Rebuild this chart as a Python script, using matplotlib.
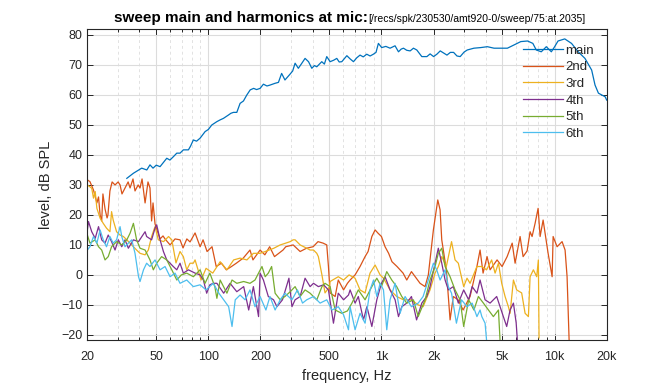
import matplotlib
matplotlib.use("Agg")
import matplotlib.pyplot as plt
from matplotlib.ticker import FixedLocator, NullFormatter

plt.rcParams['font.family'] = ['Liberation Sans', 'DejaVu Sans']

# fundamental
main_f = [33.8, 36.9, 41.2, 44.1, 46.0, 47.9, 50.0, 52.6, 55.0, 57.5, 60.0, 63.0, 65.7, 68.6, 71.7, 76.7,
          79.0, 81.9, 85.5, 89.6, 95.8, 100, 104.7, 111.9, 117, 122.2, 130.5, 135, 139.6, 146, 152.5, 159.5,
          166.8, 174.5, 182.6, 190, 199, 208, 218, 227, 243, 254, 265, 277, 296, 307, 317, 331, 345, 362,
          379, 396, 410, 423, 452, 468, 483, 505, 530, 552, 570, 590, 631, 660, 689, 720, 752, 785, 822,
          860, 898, 930, 960, 1003, 1060, 1121, 1198, 1254, 1300, 1340, 1400, 1465, 1530, 1600, 1710,
          1830, 1910, 2000, 2090, 2185, 2390, 2500, 2610, 2730, 2850, 3000, 3130, 3420, 3740, 4090,
          4470, 4890, 5340, 5840, 6380, 6980, 7490, 7840, 8380, 8960, 9580, 10010, 10470, 11450,
          12530, 13700, 14980, 16380, 17130, 17920, 19600, 20000]
main_db = [32.2, 33.9, 35.6, 35.0, 36.7, 35.6, 36.6, 36.1, 37.5, 38.9, 38.3, 39.5, 40.6, 40.6, 41.7, 41.7,
           43.0, 45.0, 44.6, 45.6, 47.8, 48.5, 50.0, 51.1, 51.7, 52.2, 53.3, 53.9, 54.2, 54.2, 57.2, 58.0,
           60.0, 61.7, 62.2, 61.8, 62.2, 63.6, 63.0, 63.3, 63.9, 64.2, 67.2, 65.0, 66.9, 68.0, 70.6, 68.9, 70.4, 72.2,
           71.1, 68.9, 69.8, 69.4, 71.1, 70.3, 72.8, 71.1, 71.6, 72.2, 71.0, 71.1, 73.1, 72.0, 71.1, 72.4, 73.3, 72.7, 73.6,
           73.0, 73.6, 74.2, 77.2, 75.8, 76.2, 75.6, 76.4, 74.4, 75.3, 75.6, 74.9, 74.7, 75.6, 75.0, 72.8,
           72.8, 73.7, 72.8, 73.6, 74.7, 73.3, 74.2, 74.2, 73.0, 72.8, 74.3, 75.0, 75.6, 75.8, 76.1,
           75.6, 75.6, 75.6, 76.7, 77.8, 78.0, 77.2, 75.0, 74.4, 76.1, 74.4, 76.1, 78.0, 78.7,
           77.2, 74.4, 72.2, 68.3, 63.3, 60.6, 59.4, 58.3]

# 2nd harmonic
h2_f = [20, 20.7, 21.7, 22.7, 23.2, 23.7, 24.2, 24.6, 25.3, 26.0, 26.3, 27.0, 27.8, 28.9, 30.1, 30.9,
        31.7, 33.0, 34.4, 35.3, 36.7, 37.7, 39.3, 40.3, 41.4, 43.1, 44.8, 46.0, 47.0, 47.9, 49.2, 50.5,
        52.6, 54.7, 56.2, 60.1, 64.2, 68.6, 71.4, 75.1, 78.4, 83.8, 89.6, 93.2, 98.3, 105, 111, 119,
        127, 136, 145, 159, 174, 181, 199, 212, 226, 241, 270, 280, 309, 339, 369, 403, 430, 460,
        483, 494, 505, 540, 563, 604, 636, 659, 704, 752, 804, 837, 880, 919, 956, 1000, 1049, 1100,
        1150, 1230, 1333, 1400, 1490, 1671, 1786, 1865, 1995, 2115, 2181, 2230, 2370, 2491, 2600,
        2771, 2962, 3250, 3560, 3712, 3864, 4075, 4241, 4655, 4975, 5320, 5690, 5915, 6321, 6579,
        6940, 7221, 7415, 7718, 8033, 8250, 8586, 9177, 9680, 9809, 10340, 11050, 11500, 11810, 12130]
h2_db = [31.7, 31.1, 28.3, 24, 26, 20, 18, 27, 22, 19, 20, 28, 31, 30, 31, 30,
         27, 29, 31, 29, 32, 28, 30, 29, 32, 24, 31, 29, 18, 24, 17, 15,
         12, 13, 12, 10, 12, 11.7, 9, 12, 11, 14, 9.4, 11.7, 7.8, 9.4, 2.8, 3.9,
         1.7, 2.8, 3.9, 5.6, 8.3, 5, 8.3, 6.7, 9.4, 6.1, 8.3, 9.4, 10, 7.8, 8.9, 9.4, 11.1, 10.6,
         10, 2.8, -6, -7.2, -1.7, -5, -2.8, -1.7, 0, 2.8, 6.1, 7.8, 12.8, 15, 13.9, 12.8, 9.4, 7.2,
         4.4, 2.8, 0.6, -1.7, 1.1, -2.8, -3.9, 0, 15, 25, 21.7, 11.7, 1.7, -15, -7.2,
         -8.3, -11.7, -7.2, 2.8, 8.3, 0.6, 6.1, 1.7, 5, 2.8, 6.1, 10.6, 3.9, 12.8, 6.1,
         8, 14.4, 12.8, 17.2, 22.2, 12.8, 18.3, 7.2, -0.6, 12.8, 9.4, 11.1, 8.3, -0.6, -21.5]

# 3rd harmonic
h3_f = [20, 21.2, 21.7, 22.2, 22.7, 23.7, 24.7, 25.8, 27.0, 27.6, 28.2, 29.5, 30.9, 32.3, 33.8, 36.9,
        38.5, 40.3, 43.1, 45.0, 47.0, 49.2, 51.4, 55.1, 58.9, 61.5, 65, 68.6, 71.7, 75.0, 78.4, 81.9,
        83.8, 90.8, 97.0, 106, 117, 128, 140, 152.5, 167, 182, 199, 213, 239, 260, 280, 297, 309,
        317, 339, 370, 387, 405, 423, 432, 453, 472, 500, 505, 563, 604, 650, 704, 752, 804, 859,
        919, 982, 1027, 1121, 1225, 1338, 1490, 1630, 1740, 1908, 2040, 2130, 2230, 2370, 2540,
        2662, 2780, 2985, 3120, 3250, 3560, 3800, 4050, 4330, 4533, 4740, 4950, 5177, 5410, 5534,
        5785, 6040, 6455, 6756, 7060, 7221, 7545, 7885, 8060, 8135]
h3_db = [30, 28.9, 25.6, 27.8, 22.2, 18.9, 17.2, 15.6, 14.4, 21.1, 18.3, 14.4, 13.3, 12.8, 11.7, 9.4,
         8.3, 7.2, 6.7, 8.3, 12.8, 16.1, 11.7, 11.1, 12.8, 11.7, 4, 7.8, 6.1, 1.7, 3.9, 3.9,
         5, -1.7, 2.2, 0.6, 4.4, 1.7, 5, 5.6, 5, 7.2, 7.2, 7.8, 8.9, 10, 10.6, 11.1, 11.7,
         11.7, 10, 8.9, 8.3, 8.3, 7.2, 6.1, 0, -6, -4, -2.2, -0.6, -1.7, 0, -1.1, -5, -6, 0.6,
         3.3, 0, -1.1, -5, -7.2, -8.3, -8.3, -10, -10.6, -5, 0.6, 2.8, 6.1, 2.8, 11.1,
         5, 3.9, -3.9, -1.1, -2.8, 2.8, 2.8, 1.7, 5, 0.6, 3.9, -2.8, -7.2, -10.6, -12.8,
         -1.7, -5, -6, -12.8, -13.9, -0.6, 1.7, -0.6, 5, -21]

# 4th harmonic
h4_f = [20, 20.3, 21.2, 22.2, 23.2, 24.2, 25.3, 26.4, 27.6, 28.9, 30.2, 31.6, 33.0, 34.5, 36.9, 39.5,
        41.3, 43.1, 44.0, 47.0, 49.2, 50.3, 52.6, 55.0, 57.5, 60.1, 62.7, 65.7, 68.6, 71.7, 76.7, 83.8,
        89.6, 93.6, 97.8, 102, 106.7, 112, 122.6, 133.5, 146, 160, 171, 182, 195, 199, 208, 222,
        238, 249, 268, 292, 304, 317, 339, 362, 387, 405, 432, 463, 494, 528, 563, 604, 645, 659,
        704, 735, 787, 824, 880, 940, 1000, 1049, 1121, 1199, 1254, 1310, 1400, 1490, 1595, 1710,
        1826, 1908, 2040, 2130, 2230, 2331, 2435, 2600, 2780, 2985, 3190, 3340, 3560, 3712, 3968,
        4241, 4630, 4844, 5060, 5290, 5534, 5785, 6000, 6100]
h4_db = [15, 17.8, 14.4, 12.2, 16.1, 11.7, 10.6, 13.3, 11.1, 8.3, 11.7, 9.4, 11.7, 8.9, 11.7, 11.1,
         12.8, 14.4, 12.8, 11.7, 15.6, 16.7, 11.7, 7.8, 5, 3.9, 2.8, 1.7, 3.9, 0.6, 1.7, 0.6,
         0, -1.7, -6.1, -3.3, -2.8, -2.8, -6.1, -2.8, -5.6, -3.9, -11.7, -3.9, -13.9, 0.6, -1.7, -7.2,
         -8.3, -10.6, -8.3, -1.1, -10.6, -8.3, -7.2, -1.1, -3.9, -2.8, -3.9, -3.3, -5, -16.1, -6.1, -8.3, -6.7, -5,
         -9.4, -7.2, -15, -10.6, -17.2, -8.3, -2.8, -0.6, -5, -8.3, -13.9, -10.6, -9.4, -7.2, -15, -9.4,
         -7.2, -3.9, 3.9, 8.9, 3.9, -1.7, -5, -3.9, -9.4, -5, -8.3, -3.9, -6.1, -1.7, -8.3,
         -9.4, -7.2, -10.6, -13.9, -17.2, -11.7, -9.4, -16, -22]

# 5th harmonic
h5_f = [20, 20.7, 22.2, 23.2, 24.2, 25.3, 26.4, 27.6, 29.5, 31.6, 33.8, 35.3, 36.9, 38.5, 40.3, 43.1,
        46.0, 48.1, 50.3, 53.7, 57.5, 61.5, 65.7, 69.8, 75.0, 81.9, 89.6, 95.7, 102, 109, 112, 117,
        128, 137, 146, 160, 174, 186, 204, 213, 222, 232, 243, 260, 277, 297, 317, 339, 362, 387,
        423, 453, 472, 505, 540, 590, 636, 675, 735, 804, 880, 940, 1000, 1073, 1147, 1225, 1310,
        1400, 1530, 1630, 1786, 1908, 2040, 2130, 2230, 2331, 2491, 2662, 2846, 2985, 3190, 3420,
        3630, 3880, 4150, 4430, 4740, 4844]
h5_db = [13.3, 10.6, 11.7, 9.4, 8.3, 5, 6.1, 9.4, 11.1, 10, 11.7, 13.9, 17.2, 11.7, 8.9, 8.3,
         5, 1.7, 3.9, 6.1, 5, 1.7, -1.7, 0, 0.6, -0.6, 1.7, -2.8, 0.6, -3.9, -7.8, -1.7,
         -6.1, -1.7, -2.8, -2.2, -2.8, -1.7, 2.8, -0.6, 0.6, 2.8, -6.1, -8.3, -7.2, -5.6, -3.9, -7.2, -5, -6.1,
         -8.3, -3.9, -2.8, -3.9, -11.7, -12.8, -12, -9.4, -5, -8.3, -3.9, -1.1, -3.9, 1.1, -1.7, -3.9, -7.2,
         -9.4, -8.3, -13.9, -8.3, -1.7, 2.8, 7.2, 8.9, 2.8, -0.6, -5, -8.3, -17.2, -8.3, -11.7,
         -7.2, -9.4, -11.7, -13.9, -11.7, -22]

# 6th harmonic
h6_f = [20, 20.7, 21.7, 22.7, 23.7, 24.7, 25.8, 27.0, 28.2, 29.5, 30.9, 31.6, 33.0, 34.5, 36.1, 37.7,
        39.5, 40.3, 42.2, 44.0, 46.0, 49.2, 52.6, 56.2, 60.1, 64.2, 68.6, 75.0, 81.9, 89.6, 97.0, 106.7,
        115, 122.6, 131, 137, 143, 152.5, 163, 174, 186, 199, 215, 227, 243, 260, 277, 304, 327, 350,
        370, 405, 442, 483, 518, 563, 604, 645, 659, 704, 752, 804, 859, 900, 940, 982, 1027, 1073,
        1121, 1199, 1281, 1369, 1490, 1630, 1740, 1865, 1995, 2085, 2181, 2331, 2435, 2540, 2710,
        2900, 3120, 3340, 3560, 3712, 3800, 3968, 4050]
h6_db = [8.3, 9.4, 12.8, 10.6, 15, 11.7, 9.4, 12.8, 10.6, 11.7, 16.1, 12.8, 9.4, 10.6, 11.7, 7.2,
         -0.6, -2.2, 1.7, 3.9, 2.8, 5, 1.7, 2.8, -0.6, 0.6, -2.8, -1.7, -3.9, -3.3, -5, -2.8,
         -6.1, -8.3, -10.6, -17.2, -8.3, -6.7, -8.3, -5, -10.6, -7.2, -11.7, -7.2, -11.7, -8.3, -6.1, -8.3, -5, -9.4,
         -8.3, -7.2, -9.4, -8.3, -11.7, -10.6, -13.3, -18.3, -10.6, -18.3, -12.8, -16.1, -5, -1.7, -7.2, -2.8, -5, -18.3,
         -8.3, -2.8, -12.8, -7.2, -10.6, -9.4, -7.2, -1.7, 3.9, 1.7, -1.7, 1.7, -3.9, -6.1, -16.1,
         -8.3, -10.6, -9.4, -13.9, -11.7, -13.9, -16.1, -22]

series = [("main", main_f, main_db, "#0072BD"),
          ("2nd", h2_f, h2_db, "#D95319"),
          ("3rd", h3_f, h3_db, "#EDB120"),
          ("4th", h4_f, h4_db, "#7E2F8E"),
          ("5th", h5_f, h5_db, "#77AC30"),
          ("6th", h6_f, h6_db, "#4DBEEE")]

xticks = [20, 50, 100, 200, 500, 1000, 2000, 5000, 10000, 20000]
xticklabels = ["20", "50", "100", "200", "500", "1k", "2k", "5k", "10k", "20k"]
yticks = [-20, -10, 0, 10, 20, 30, 40, 50, 60, 70, 80]

fig = plt.figure(figsize=(6.72, 3.84), dpi=100)
ax = fig.add_axes([0.13, 0.1146, 0.7728, 0.8091])

for name, f, db, c in series:
    ax.plot(f, db, color=c, lw=0.9, label=name)

ax.set_xscale("log")
ax.set_xlim(20, 20000)
ax.set_ylim(-21.7, 81.9)

minor = [m * d for d in (10, 100, 1000, 10000) for m in range(2, 10) if 20 < m * d < 20000]
ax.xaxis.set_major_locator(FixedLocator(xticks))
ax.xaxis.set_minor_locator(FixedLocator(minor))
ax.xaxis.set_minor_formatter(NullFormatter())
ax.set_xticklabels(xticklabels)
ax.set_yticks(yticks)

ax.grid(True, which="major", color="#dcdcdc", lw=0.8, ls="-")
ax.grid(True, which="minor", axis="x", color="#e2e2e2", lw=0.7, ls=(0, (3, 3)))
ax.set_axisbelow(True)

for s in ax.spines.values():
    s.set_color("#262626")
    s.set_linewidth(0.8)
ax.tick_params(which="both", direction="in", top=True, right=True, colors="#262626",
               labelsize=9, length=4, width=0.7)
ax.tick_params(which="minor", length=2.5)
ax.tick_params(axis="x", pad=8)

ax.set_xlabel("frequency, Hz", fontsize=10.5, color="#262626", labelpad=4)
ax.set_ylabel("level, dB SPL", fontsize=10.5, color="#262626", labelpad=6)

leg = ax.legend(loc="upper left", bbox_to_anchor=(0.839, 0.951), frameon=False, fontsize=9.5,
                handlelength=3.0, handletextpad=0.2, labelspacing=0.33, borderaxespad=0, borderpad=0)
for t in leg.get_texts():
    t.set_color("#262626")

fig.text(0.548, 0.944, "sweep main and harmonics at mic:", ha="right", va="baseline",
         fontsize=11, fontweight="bold", color="black")
fig.text(0.548, 0.944, "[/recs/spk/230530/amt920-0/sweep/75:at.2035]", ha="left", va="baseline",
         fontsize=7.5, color="black")

fig.savefig("out.png", dpi=100)
